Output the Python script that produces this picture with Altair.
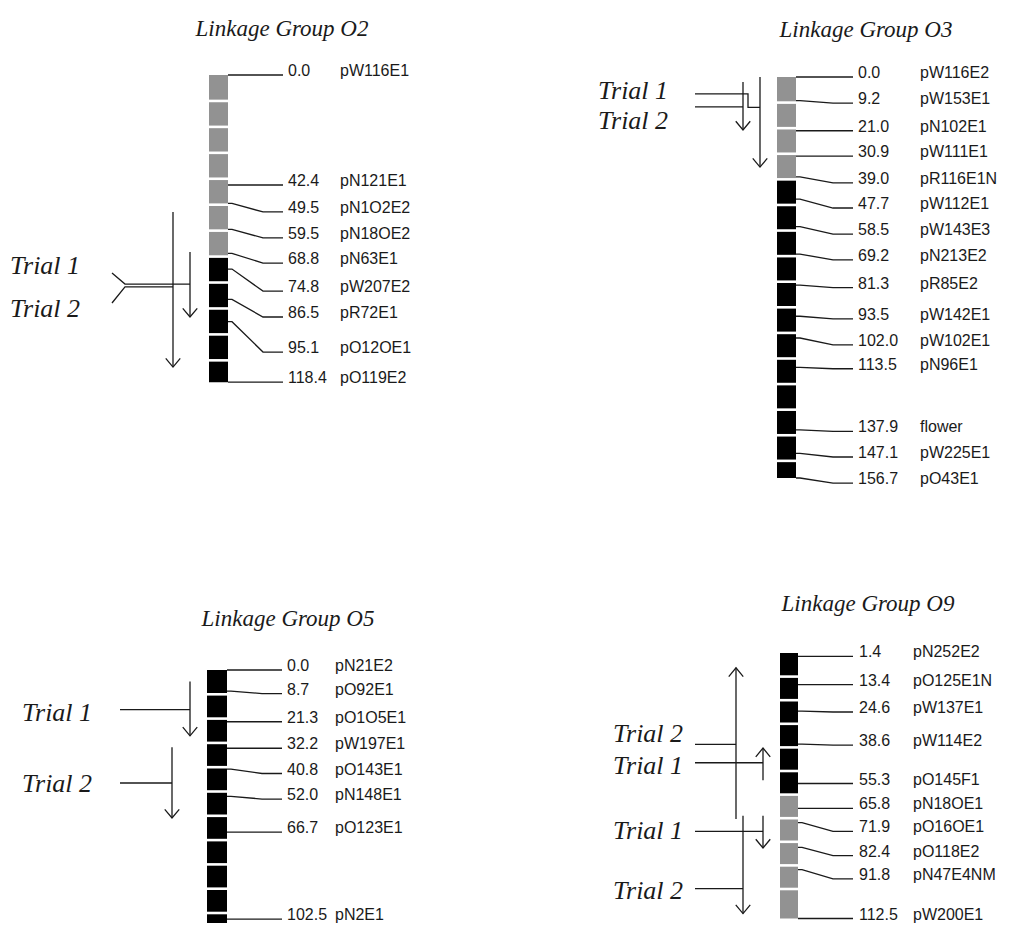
import altair as alt
import pandas as pd

# ---------------- data ----------------
# Linkage group O2
o2_pos = [0.0, 42.4, 49.5, 59.5, 68.8, 74.8, 86.5, 95.1, 118.4]
o2_lab = [0.0, 42.4, 52.8, 62.8, 72.5, 83.3, 93.3, 106.8, 118.4]
o2_name = ["pW116E1", "pN121E1", "pN1O2E2", "pN18OE2", "pN63E1", "pW207E2",
           "pR72E1", "pO12OE1", "pO119E2"]
o2_seg_start = [0.0, 70.0]
o2_seg_end = [70.0, 118.4]
o2_seg_kind = ["gray", "black"]
o2_trial = ["Trial 1", "Trial 2"]
o2_trial_text = [73.2, 89.8]
o2_trial_from = [76.3, 87.9]
o2_trial_to = [80.6, 81.7]
o2_trial_start = [68.2, 52.8]
o2_trial_end = [93.3, 112.6]
o2_trial_dir = ["down", "down"]

# Linkage group O3
o3_pos = [0.0, 9.2, 21.0, 30.9, 39.0, 47.7, 58.5, 69.2, 81.3, 93.5, 102.0,
          113.5, 137.9, 147.1, 156.7]
o3_lab = [0.0, 10.2, 21.0, 30.9, 41.4, 51.2, 61.4, 71.5, 82.3, 94.5, 104.7,
          114.0, 138.5, 148.5, 158.7]
o3_name = ["pW116E2", "pW153E1", "pN102E1", "pW111E1", "pR116E1N", "pW112E1",
           "pW143E3", "pN213E2", "pR85E2", "pW142E1", "pW102E1", "pN96E1",
           "flower", "pW225E1", "pO43E1"]
o3_seg_start = [0.0, 40.0]
o3_seg_end = [40.0, 156.7]
o3_seg_kind = ["gray", "black"]
o3_trial = ["Trial 1", "Trial 2"]
o3_trial_text = [5.1, 16.8]
o3_trial_from = [6.6, 11.7]
o3_trial_to = [11.9, 11.7]
o3_trial_start = [0.0, 2.0]
o3_trial_end = [35.2, 20.7]
o3_trial_dir = ["down", "down"]

# Linkage group O5
o5_pos = [0.0, 8.7, 21.3, 32.2, 40.8, 52.0, 66.7, 102.5]
o5_lab = [0.0, 9.7, 21.3, 32.2, 42.6, 53.1, 66.7, 102.5]
o5_name = ["pN21E2", "pO92E1", "pO1O5E1", "pW197E1", "pO143E1", "pN148E1",
           "pO123E1", "pN2E1"]
o5_seg_start = [0.0]
o5_seg_end = [106.0]
o5_seg_kind = ["black"]
o5_trial = ["Trial 1", "Trial 2"]
o5_trial_text = [17.4, 46.5]
o5_trial_from = [16.3, 46.5]
o5_trial_to = [16.3, 46.5]
o5_trial_start = [4.7, 31.8]
o5_trial_end = [27.1, 60.9]
o5_trial_dir = ["down", "down"]

# Linkage group O9
o9_pos = [1.4, 13.4, 24.6, 38.6, 55.3, 65.8, 71.9, 82.4, 91.8, 112.5]
o9_lab = [1.4, 13.4, 25.0, 39.0, 55.3, 65.8, 75.6, 85.9, 95.7, 112.5]
o9_name = ["pN252E2", "pO125E1N", "pW137E1", "pW114E2", "pO145F1", "pN18OE1",
           "pO16OE1", "pO118E2", "pN47E4NM", "pW200E1"]
o9_seg_start = [0.0, 60.0]
o9_seg_end = [60.0, 112.5]
o9_seg_kind = ["black", "gray"]
o9_trial = ["Trial 2", "Trial 1", "Trial 1", "Trial 2"]
o9_trial_text = [33.8, 47.6, 75.2, 100.6]
o9_trial_from = [38.7, 46.5, 75.6, 99.8]
o9_trial_to = [38.7, 46.5, 75.6, 99.8]
o9_trial_start = [6.3, 40.3, 69.0, 69.0]
o9_trial_end = [70.3, 53.9, 82.6, 110.4]
o9_trial_dir = ["up", "up", "down", "down"]

# ---------------- layout (page pixels) ----------------
W, H = 1014, 915
XS = alt.Scale(domain=[8, 8 + W], nice=False, zero=False)
SEG_COLORS = {"gray": "#929292", "black": "#000000"}
INK = "#1a1a1a"
UP = "M-1,1.2L0,0L1,1.2"
DOWN = "M-1,-1.2L0,0L1,-1.2"
LABEL_FONT = "Liberation Sans"
LABEL_SIZE = 16

LAYOUT = {
    "O2": dict(y0=75, k=2.594, bar=(209, 228), end=283, val=288, name=340,
               title=(282, -15.0), tx=10, vx=[190, 173],
               conn=[(112, 112, 125), (112, 112, 125)]),
    "O3": dict(y0=77, k=2.559, bar=(777, 796), end=853, val=858, name=920,
               title=(866, -15.6), tx=598, vx=[760, 743],
               conn=[(695, 748, 748), (695, 743, 743)]),
    "O5": dict(y0=670, k=2.43, bar=(207, 227), end=282, val=287, name=335,
               title=(288, -18.2), tx=22, vx=[190, 172],
               conn=[(120, 120, 120), (120, 120, 120)]),
    "O9": dict(y0=653, k=2.36, bar=(780, 798), end=853, val=859, name=913,
               title=(868, -18.0), tx=613, vx=[736, 763, 763, 743],
               conn=[(695, 695, 695)] * 4),
}


def panel(key, pos, lab, names, s_start, s_end, s_kind,
          t_name, t_text, t_from, t_to, t_start, t_end, t_dir):
    L = LAYOUT[key]
    top = (8 - L["y0"]) / L["k"]
    ys = alt.Scale(domain=[top, top + H / L["k"]], reverse=True, nice=False, zero=False)

    def X(f):
        return alt.X(f, type="quantitative", scale=XS, axis=None)

    def Y(f):
        return alt.Y(f, type="quantitative", scale=ys, axis=None)

    b0, b1 = L["bar"]
    layers = []

    blocks = pd.DataFrame({"s": s_start, "e": s_end,
                           "c": [SEG_COLORS[c] for c in s_kind]})
    blocks["x"], blocks["x2"] = b0, b1
    layers.append(alt.Chart(blocks).mark_rect().encode(
        x=X("x"), x2=alt.X2("x2"), y=Y("s"), y2=alt.Y2("e"),
        color=alt.Color("c:N", scale=None)))

    length = max(s_end)
    cuts = pd.DataFrame({"t": [v for v in range(10, int(length) + 1, 10) if v < length - 3]})
    cuts["x"], cuts["x2"] = b0 - 1, b1 + 1
    layers.append(alt.Chart(cuts).mark_rule(color="white", strokeWidth=2.6).encode(
        x=X("x"), x2=alt.X2("x2"), y=Y("t")))

    rows = []
    for i, (p, l) in enumerate(zip(pos, lab)):
        pts = [(b1, p), (b1 + 4, p), (L["end"] - 20, l), (L["end"], l)]
        for j, (xx, yy) in enumerate(pts):
            rows.append({"id": f"m{i}", "o": j, "x": xx, "y": yy})
    for i in range(len(t_name)):
        xs0, xb1, xb2 = L["conn"][i]
        vx = L["vx"][i]
        pts = [(xs0, t_from[i]), (xb1, t_from[i]), (xb2, t_to[i]), (vx, t_to[i])]
        for j, (xx, yy) in enumerate(pts):
            rows.append({"id": f"c{i}", "o": j, "x": xx, "y": yy})
        rows.append({"id": f"v{i}", "o": 0, "x": vx, "y": t_start[i]})
        rows.append({"id": f"v{i}", "o": 1, "x": vx, "y": t_end[i]})
    lines = pd.DataFrame(rows)
    layers.append(alt.Chart(lines).mark_line(color=INK, strokeWidth=1.3).encode(
        x=X("x"), y=Y("y"), detail="id:N", order="o:Q"))

    heads = pd.DataFrame({
        "x": L["vx"],
        "y": [s if d == "up" else e for s, e, d in zip(t_start, t_end, t_dir)],
        "d": t_dir})
    layers.append(alt.Chart(heads).mark_point(filled=False, opacity=1, strokeWidth=1.3,
                                              color=INK, size=210).encode(
        x=X("x"), y=Y("y"),
        shape=alt.Shape("d:N", scale=alt.Scale(domain=["up", "down"], range=[UP, DOWN]),
                        legend=None)))

    labels = pd.DataFrame({"y": lab, "v": [f"{p:.1f}" for p in pos], "n": names})
    labels["xv"], labels["xn"] = L["val"], L["name"]
    layers.append(alt.Chart(labels).mark_text(align="left", baseline="alphabetic", dy=1,
                                              font=LABEL_FONT, fontSize=LABEL_SIZE,
                                              color=INK).encode(
        x=X("xv"), y=Y("y"), text="v:N"))
    layers.append(alt.Chart(labels).mark_text(align="left", baseline="alphabetic", dy=1,
                                              font=LABEL_FONT, fontSize=LABEL_SIZE,
                                              color=INK).encode(
        x=X("xn"), y=Y("y"), text="n:N"))

    trials = pd.DataFrame({"y": t_text, "t": t_name})
    trials["x"] = L["tx"]
    layers.append(alt.Chart(trials).mark_text(align="left", baseline="middle", dy=1,
                                              font="Liberation Serif", fontStyle="italic",
                                              fontSize=26, color=INK).encode(
        x=X("x"), y=Y("y"), text="t:N"))

    title = pd.DataFrame({"x": [L["title"][0]], "y": [L["title"][1]],
                          "t": [f"Linkage Group {key}"]})
    layers.append(alt.Chart(title).mark_text(align="center", baseline="alphabetic",
                                             font="Liberation Serif", fontStyle="italic",
                                             fontSize=23, color=INK).encode(
        x=X("x"), y=Y("y"), text="t:N"))
    return layers


layers = []
layers += panel("O2", o2_pos, o2_lab, o2_name, o2_seg_start, o2_seg_end, o2_seg_kind,
                o2_trial, o2_trial_text, o2_trial_from, o2_trial_to,
                o2_trial_start, o2_trial_end, o2_trial_dir)
layers += panel("O3", o3_pos, o3_lab, o3_name, o3_seg_start, o3_seg_end, o3_seg_kind,
                o3_trial, o3_trial_text, o3_trial_from, o3_trial_to,
                o3_trial_start, o3_trial_end, o3_trial_dir)
layers += panel("O5", o5_pos, o5_lab, o5_name, o5_seg_start, o5_seg_end, o5_seg_kind,
                o5_trial, o5_trial_text, o5_trial_from, o5_trial_to,
                o5_trial_start, o5_trial_end, o5_trial_dir)
layers += panel("O9", o9_pos, o9_lab, o9_name, o9_seg_start, o9_seg_end, o9_seg_kind,
                o9_trial, o9_trial_text, o9_trial_from, o9_trial_to,
                o9_trial_start, o9_trial_end, o9_trial_dir)

chart = alt.layer(*layers).resolve_scale(y="independent").properties(
    width=W, height=H, padding=0,
    autosize=alt.AutoSizeParams(type="none"),
).configure_view(stroke=None)

chart.save("out.html", embed_options={"renderer": "svg", "actions": False})
